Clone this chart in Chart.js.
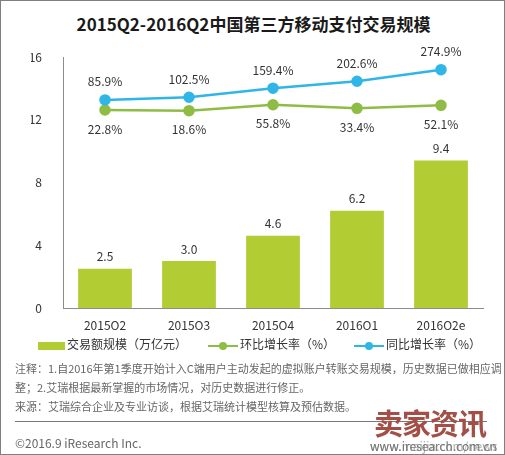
<!DOCTYPE html>
<html>
<head>
<meta charset="utf-8">
<script src="https://cdn.jsdelivr.net/npm/chart.js@4"></script>
<style>
    body { margin: 0; background: #fff; font-family: "Noto Sans CJK SC", "Noto Sans", sans-serif; }
    #frame { position: absolute; left: 0; top: 0; width: 505px; height: 455px; box-sizing: border-box; border: 1px solid #7f7f7f; overflow: hidden; }
    #title { position: absolute; top: 10px; left: 0; width: 505px; text-align: center; font-size: 17px; font-weight: bold; color: #1a1a1a; }
    #chartBox { position: absolute; left: 0; top: 0; width: 505px; height: 455px; }
    .legend { position: absolute; top: 334px; font-size: 12px; color: #333; white-space: nowrap; line-height: 18px; }
    .swatch { display: inline-block; width: 27px; height: 8px; background: #b2cd33; vertical-align: middle; margin-right: 2px; }
    .lineKey { display: inline-block; position: relative; width: 30px; height: 10px; vertical-align: middle; margin-right: 2px; }
    .lineKey i { position: absolute; left: 0; top: 4px; width: 30px; height: 2px; }
    .lineKey b { position: absolute; left: 11px; top: 1px; width: 8px; height: 8px; border-radius: 50%; }
    .note { position: absolute; left: 14px; font-size: 11px; color: #666; white-space: nowrap; }
    #rule { position: absolute; left: 14px; top: 420px; width: 472px; height: 1px; background: #777; }
    #copy { position: absolute; left: 14px; top: 433px; font-size: 12px; color: #666; }
    #mark { position: absolute; left: 373px; top: 400px; font-size: 29px; font-weight: bold; color: #a34f48; letter-spacing: -1px; }
    .url { position: absolute; left: 369px; top: 436px; font-size: 12px; color: #777; }
</style>
</head>
<body>
<div id="frame">
    <div id="title">2015Q2-2016Q2中国第三方移动支付交易规模</div>
    <div id="chartBox"><canvas id="payChart"></canvas></div>

    <div class="legend" style="left:37px"><span class="swatch"></span>交易额规模（万亿元）</div>
    <div class="legend" style="left:207px"><span class="lineKey"><i style="background:#8fbc45"></i><b style="background:#8fbc45"></b></span>环比增长率（%）</div>
    <div class="legend" style="left:353px"><span class="lineKey"><i style="background:#30b6e6"></i><b style="background:#30b6e6"></b></span>同比增长率（%）</div>

    <div class="note" style="top:359px">注释：1.自2016年第1季度开始计入C端用户主动发起的虚拟账户转账交易规模，历史数据已做相应调</div>
    <div class="note" style="top:378px">整；2.艾瑞根据最新掌握的市场情况，对历史数据进行修正。</div>
    <div class="note" style="top:397px">来源：艾瑞综合企业及专业访谈，根据艾瑞统计模型核算及预估数据。</div>
    <div id="rule"></div>
    <div id="copy">©2016.9 iResearch Inc.</div>
    <div id="mark">卖家资讯</div>
    <div class="url">www.iresearch.com.cn</div>
    <div class="url" style="opacity:0.6">www.maijia.com/news</div>
</div>

<script>
const quarters = ["2015Q2", "2015Q3", "2015Q4", "2016Q1", "2016Q2e"];
const volume = [2.5, 3.0, 4.6, 6.2, 9.4];          // 万亿元
const qoqGrowth = [22.8, 18.6, 55.8, 33.4, 52.1];  // 环比 %
const yoyGrowth = [85.9, 102.5, 159.4, 202.6, 274.9]; // 同比 %
const yTicks = [0, 4, 8, 12, 16];

const BAR = "#b2cd33";
const GREEN = "#8fbc45";
const BLUE = "#30b6e6";
const TEXT = "#333";

// value labels: bars above, blue line above, green line below
const valueLabels = {
    id: "valueLabels",
    afterDatasetsDraw(chart) {
        const ctx = chart.ctx;
        ctx.save();
        ctx.font = "12px 'Noto Sans CJK SC', sans-serif";
        ctx.fillStyle = TEXT;
        ctx.textAlign = "center";
        ctx.textBaseline = "middle";
        chart.data.datasets.forEach((ds, i) => {
            const meta = chart.getDatasetMeta(i);
            meta.data.forEach((el, j) => {
                const v = ds.data[j];
                if (ds.type === "bar") {
                    ctx.fillText(v.toFixed(1), el.x, el.y - 12);
                } else if (ds.label.startsWith("同比")) {
                    ctx.fillText(v.toFixed(1) + "%", el.x, el.y - 18);
                } else {
                    ctx.fillText(v.toFixed(1) + "%", el.x, el.y + 19);
                }
            });
        });
        ctx.restore();
    }
};

new Chart(document.getElementById("payChart"), {
    data: {
        labels: quarters,
        datasets: [
            {
                type: "line",
                label: "同比增长率（%）",
                data: yoyGrowth,
                yAxisID: "y1",
                borderColor: BLUE,
                backgroundColor: BLUE,
                pointBackgroundColor: BLUE,
                borderWidth: 2.5,
                pointRadius: 4.5,
                tension: 0,
                order: 1
            },
            {
                type: "line",
                label: "环比增长率（%）",
                data: qoqGrowth,
                yAxisID: "y1",
                borderColor: GREEN,
                backgroundColor: GREEN,
                pointBackgroundColor: GREEN,
                borderWidth: 2.5,
                pointRadius: 4.5,
                tension: 0,
                order: 2
            },
            {
                type: "bar",
                label: "交易额规模（万亿元）",
                data: volume,
                yAxisID: "y",
                backgroundColor: BAR,
                barPercentage: 0.64,
                categoryPercentage: 1,
                order: 3
            }
        ]
    },
    options: {
        responsive: true,
        maintainAspectRatio: false,
        animation: false,
        layout: { padding: { left: 30, right: 23, top: 56, bottom: 126 } },
        plugins: {
            legend: { display: false },
            tooltip: { enabled: false }
        },
        scales: {
            x: {
                grid: { display: false },
                border: { color: "#8c8c8c" },
                ticks: { color: TEXT, font: { size: 12, family: "'Noto Sans CJK SC', sans-serif" }, padding: 2 },
                afterFit: s => { s.height = 22; }
            },
            y: {
                min: 0,
                max: 16,
                afterBuildTicks: s => { s.ticks = yTicks.map(v => ({ value: v })); },
                grid: { display: false },
                border: { color: "#8c8c8c" },
                ticks: { color: TEXT, font: { size: 12, family: "'Noto Sans CJK SC', sans-serif" }, padding: 13 },
                afterFit: s => { s.width = 32; }
            },
            y1: {
                display: false,
                min: -1214,
                max: 354
            }
        }
    },
    plugins: [valueLabels]
});
</script>
</body>
</html>
